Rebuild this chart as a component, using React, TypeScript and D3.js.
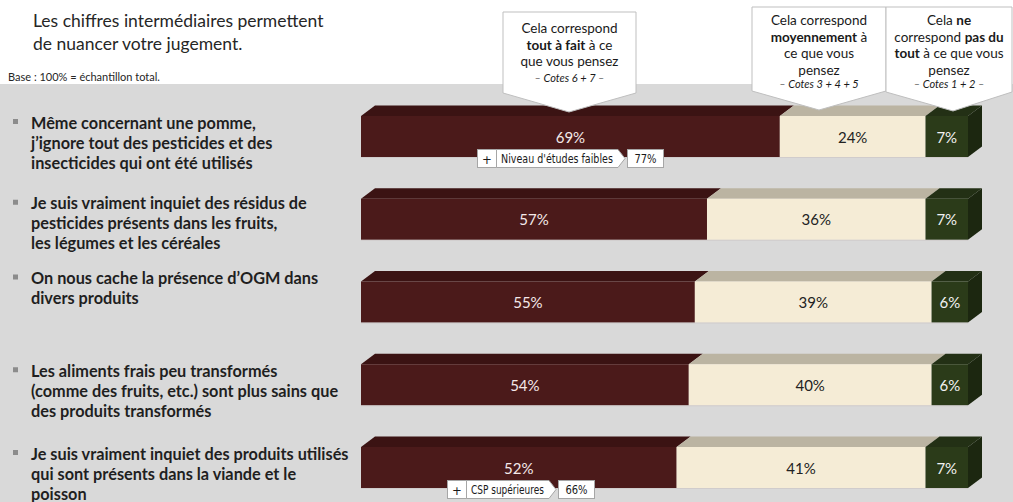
import React, { useLayoutEffect, useRef, useState } from "react";
import * as d3 from "d3";

// statements (left labels), one array of lines per row
const statements = [
  ["Même concernant une pomme,", "j’ignore tout des pesticides et des", "insecticides qui ont été utilisés"],
  ["Je suis vraiment inquiet des résidus de", "pesticides présents dans les fruits,", "les légumes et les céréales"],
  ["On nous cache la présence d’OGM dans", "divers produits"],
  ["Les aliments frais peu transformés", "(comme des fruits, etc.) sont plus sains que", "des produits transformés"],
  ["Je suis vraiment inquiet des produits utilisés", "qui sont présents dans la viande et le", "poisson"],
];

// series values (%)
const toutAFait = [69, 57, 55, 54, 52];
const moyennement = [24, 36, 39, 40, 41];
const pasDuTout = [7, 7, 6, 6, 7];

// highlighted sub-groups
const badgeRows = [0, 4];
const badgeLabels = ["Niveau d'études faibles", "CSP supérieures"];
const badgeValues = ["77%", "66%"];

const W = 1013;
const H = 502;
const DX = 14;
const DY = -10.5;
const BAR_H = 41;

const FONT = "Lato, 'Open Sans', sans-serif";
const NARROW = "'Liberation Sans Narrow', 'DejaVu Sans Condensed', Roboto, sans-serif";

const segColors = [
  { front: "#4b1a1a", top: "#3b1313", side: "#2e0e0e", text: "#f4e9e9" },
  { front: "#f5ecd6", top: "#bbb4a2", side: "#a9a28f", text: "#222" },
  { front: "#2b3b19", top: "#233015", side: "#1c2710", text: "#f2f2f2" },
];

// label layout tweaks (first line offset from bar top)
const labelShift = [6, 4, -4, 6, 6];
const badgeLeft = [477, 447];
const badgeLabelW = [122, 83];

type Piece = [string, string];
const callouts: { x0: number; x1: number; top: number; side: number; tipX: number; tipY: number; ys: number[]; lines: Piece[][] }[] = [
  {
    x0: 503, x1: 636, top: 12, side: 93, tipX: 569, tipY: 112,
    ys: [28, 45, 61, 77],
    lines: [
      [["Cela correspond", ""]],
      [["tout à fait", "b"], [" à ce", ""]],
      [["que vous pensez", ""]],
      [["– Cotes 6 + 7 –", "i"]],
    ],
  },
  {
    x0: 752, x1: 886, top: 7, side: 91, tipX: 819, tipY: 110,
    ys: [20, 37, 53, 70, 83],
    lines: [
      [["Cela correspond", ""]],
      [["moyennement", "b"], [" à", ""]],
      [["ce que vous", ""]],
      [["pensez", ""]],
      [["– Cotes 3 + 4 + 5", "i"]],
    ],
  },
  {
    x0: 886, x1: 1012, top: 7, side: 92, tipX: 953, tipY: 111,
    ys: [20, 37, 53, 70, 83],
    lines: [
      [["Cela ", ""], ["ne", "b"]],
      [["correspond ", ""], ["pas du", "b"]],
      [["tout", "b"], [" à ce que vous", ""]],
      [["pensez", ""]],
      [["– Cotes 1 + 2 –", "i"]],
    ],
  },
];

export default function App() {
  const labelRefs = useRef<(SVGTextElement | null)[]>([]);
  const [squeeze, setSqueeze] = useState<number[]>(badgeRows.map(() => 1));

  // fit the badge labels into their boxes (no condensed font available)
  useLayoutEffect(() => {
    const s = badgeRows.map((_, n) => {
      const el = labelRefs.current[n];
      if (!el) return 1;
      const w = el.getComputedTextLength();
      return w > 0 ? Math.min(1, (badgeLabelW[n] - 10) / w) : 1;
    });
    setSqueeze(s);
  }, []);

  const x = d3.scaleLinear().domain([0, 100]).range([361, 968]);
  const y = d3
    .scalePoint<number>()
    .domain(d3.range(statements.length))
    .range([116, 447]);

  const series = [toutAFait, moyennement, pasDuTout];
  const stack = statements.map((_, i) => {
    let acc = 0;
    return series.map((s) => {
      const a = acc;
      acc += s[i];
      return { a, b: acc, v: s[i] };
    });
  });

  const poly = (pts: number[][]) => pts.map((p) => p.join(",")).join(" ");

  return (
    <svg width={W} height={H} style={{ position: "absolute", left: 0, top: 0, background: "#fff" }}>
      <rect x={0} y={84} width={W} height={H - 84} fill="#d9d9d9" />

      <text x={33} y={20} dominantBaseline="central" fontFamily={FONT} fontSize={17.5} fill="#262626">
        Les chiffres intermédiaires permettent
      </text>
      <text x={33} y={43} dominantBaseline="central" fontFamily={FONT} fontSize={17.5} fill="#262626">
        de nuancer votre jugement.
      </text>
      <text x={8} y={76} dominantBaseline="central" fontFamily={FONT} fontSize={11} fill="#262626">
        Base : 100% = échantillon total.
      </text>

      {/* statements */}
      {statements.map((lines, i) => {
        const y0 = (y(i) as number) + labelShift[i];
        return (
          <g key={"l" + i}>
            <rect x={13} y={y0 - 3} width={5} height={5} fill="#8c8c8c" />
            {lines.map((ln, j) => (
              <text
                key={j}
                x={31}
                y={y0 + j * 20}
                dominantBaseline="central"
                fontFamily={FONT}
                fontWeight="bold"
                fontSize={16.3}
                fill="#1f1f1f"
              >
                {ln}
              </text>
            ))}
          </g>
        );
      })}

      {/* 3D stacked bars */}
      {stack.map((segs, i) => {
        const top = y(i) as number;
        const bot = top + BAR_H;
        return (
          <g key={"b" + i}>
            {segs.map((s, k) => {
              const x0 = x(s.a);
              const x1 = x(s.b);
              const c = segColors[k];
              return (
                <g key={k}>
                  <polygon
                    points={poly([[x0, top], [x0 + DX, top + DY], [x1 + DX, top + DY], [x1, top]])}
                    fill={c.top}
                  />
                  <rect x={x0} y={top} width={x1 - x0} height={BAR_H} fill={c.front} />
                  {k === segs.length - 1 && (
                    <polygon
                      points={poly([[x1, top], [x1 + DX, top + DY], [x1 + DX, bot + DY], [x1, bot]])}
                      fill={c.side}
                    />
                  )}
                  <text
                    x={(x0 + x1) / 2}
                    y={top + BAR_H / 2}
                    textAnchor="middle"
                    dominantBaseline="central"
                    fontFamily={FONT}
                    fontSize={15}
                    fill={c.text}
                  >
                    {s.v}%
                  </text>
                </g>
              );
            })}
            <line x1={x(0)} x2={x(100)} y1={bot + 0.5} y2={bot + 0.5} stroke="#c8c0c0" strokeOpacity={0.5} />
          </g>
        );
      })}

      {/* badges */}
      {badgeRows.map((r, n) => {
        const bot = (y(r) as number) + BAR_H;
        const t = bot - 8;
        const h = 18;
        const l = badgeLeft[n];
        const pw = 19;
        const lw = badgeLabelW[n];
        const lx = l + pw;
        const vx = lx + lw + 9;
        const cy = t + h / 2 + 1;
        return (
          <g key={"bd" + n} fontFamily={NARROW} fontSize={13} fill="#1a1a1a">
            <rect x={l + 0.5} y={t + 0.5} width={pw} height={h} fill="#fff" stroke="#a6a6a6" />
            <text x={l + pw / 2 + 0.5} y={cy} textAnchor="middle" dominantBaseline="central">
              +
            </text>
            <polygon
              points={poly([[lx + 0.5, t + 0.5], [lx + lw, t + 0.5], [lx + lw + 7, t + h / 2 + 0.5], [lx + lw, t + h + 0.5], [lx + 0.5, t + h + 0.5]])}
              fill="#fff"
              stroke="#a6a6a6"
            />
            <text
              ref={(el) => {
                labelRefs.current[n] = el;
              }}
              transform={`translate(${lx + 5},${cy}) scale(${squeeze[n]},1)`}
              dominantBaseline="central"
            >
              {badgeLabels[n]}
            </text>
            <rect x={vx + 0.5} y={t + 0.5} width={36} height={h} fill="#fff" stroke="#a6a6a6" />
            <text
              transform={`translate(${vx + 18.5},${cy}) scale(${squeeze[n] < 1 ? 0.85 : 1},1)`}
              textAnchor="middle"
              dominantBaseline="central"
            >
              {badgeValues[n]}
            </text>
          </g>
        );
      })}

      {/* callouts */}
      {callouts.map((c, n) => (
        <g key={"c" + n}>
          <polygon
            points={poly([[c.x0, c.top], [c.x1, c.top], [c.x1, c.side], [c.tipX, c.tipY], [c.x0, c.side]])}
            fill="#fff"
            stroke="#bfbfbf"
          />
          {c.lines.map((ln, j) => (
            <text
              key={j}
              x={(c.x0 + c.x1) / 2}
              y={c.ys[j]}
              textAnchor="middle"
              dominantBaseline="central"
              fontFamily={FONT}
              fontSize={ln[0][1] === "i" ? 11 : 13.5}
              fill="#1a1a1a"
            >
              {ln.map((p, k) => (
                <tspan
                  key={k}
                  fontWeight={p[1] === "b" ? "bold" : "normal"}
                  fontStyle={p[1] === "i" ? "italic" : "normal"}
                >
                  {p[0]}
                </tspan>
              ))}
            </text>
          ))}
        </g>
      ))}
    </svg>
  );
}
